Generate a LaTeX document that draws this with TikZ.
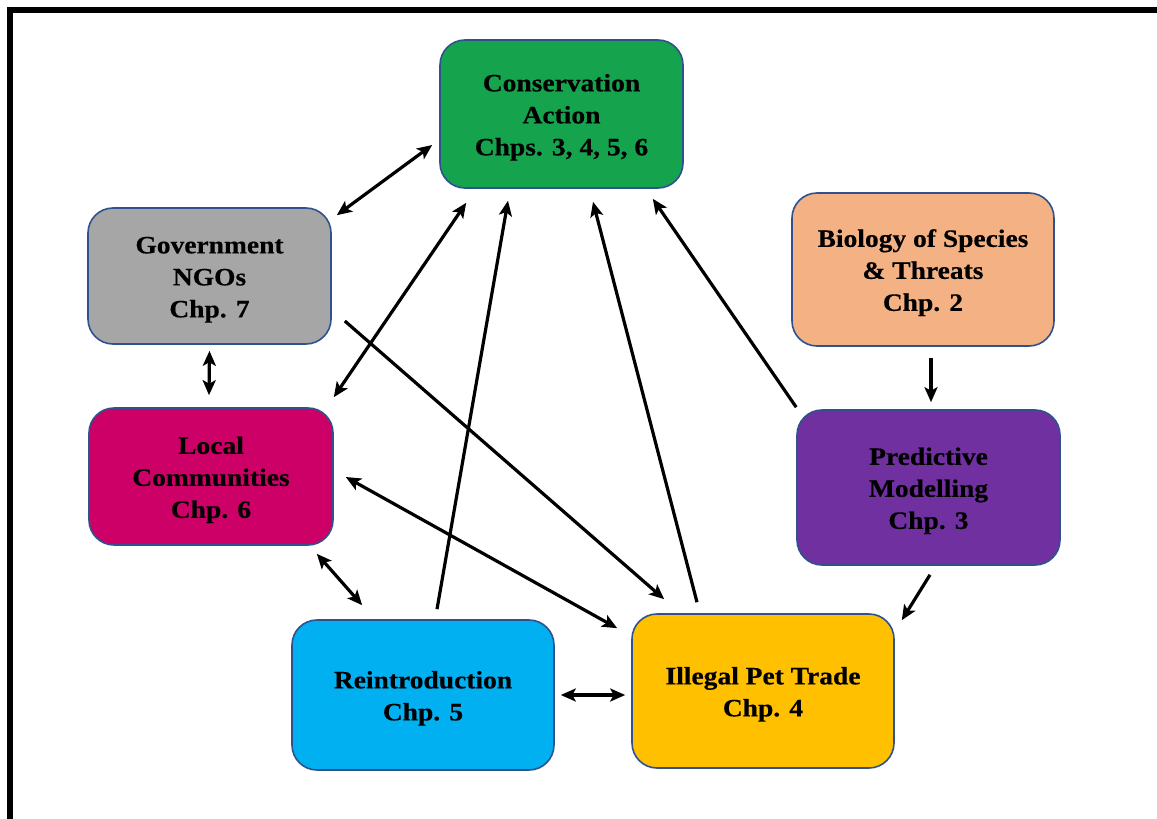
\documentclass[tikz,border=0pt]{standalone}
\usepackage{fontspec}
\setmainfont{Liberation Serif}
\newfontfamily\boxfont{Liberation Serif}[BoldFeatures={FakeStretch=1.1,FakeBold=0.4}]
\usetikzlibrary{calc,arrows.meta}
\definecolor{cgreen}{RGB}{22,163,77}
\definecolor{cgray}{RGB}{166,166,166}
\definecolor{csalmon}{RGB}{244,177,131}
\definecolor{cmagenta}{RGB}{204,0,102}
\definecolor{cpurple}{RGB}{112,48,160}
\definecolor{ccyan}{RGB}{0,176,240}
\definecolor{cyellow}{RGB}{255,192,0}
\definecolor{cedge}{RGB}{47,82,143}
\newcommand{\tp}{\rule{0pt}{24pt}}
\tikzset{
  box/.style={draw=cedge, line width=1.6pt, rounded corners=25pt, inner sep=0pt,
    align=center, font=\boxfont\fontsize{25}{32}\selectfont\bfseries, text=black},
  one/.style={line width=3.2pt, -{Stealth[length=15pt,width=13pt,inset=3.5pt]}},
  two/.style={line width=3.2pt, {Stealth[length=15pt,width=13pt,inset=3.5pt]}-{Stealth[length=15pt,width=13pt,inset=3.5pt]}},
}
\begin{document}
\begin{tikzpicture}[x=1pt,y=-1pt]
\useasboundingbox (0,0) rectangle (1157,819);
\fill[white] (0,0) rectangle (1157,819);
\draw[line width=6pt, line cap=rect] (10,830) -- (10,10) -- (1165,10);

\node[box, fill=cgreen, minimum width=243pt, minimum height=148pt] (ca) at (561.5,114) {\tp Conservation\\Action\\Chps. 3, 4, 5, 6};
\node[box, fill=cgray, minimum width=243pt, minimum height=136pt] (gov) at (209.5,276) {\tp Government\\NGOs\\Chp. 7};
\node[box, fill=csalmon, minimum width=262pt, minimum height=153pt] (bio) at (923,269.5) {\tp Biology of Species\\\& Threats\\Chp. 2};
\node[box, fill=cmagenta, minimum width=244pt, minimum height=137pt] (lc) at (211,476.5) {\tp Local\\Communities\\Chp. 6};
\node[box, fill=cpurple, minimum width=263pt, minimum height=155pt] (pm) at (928.5,487.5) {\tp Predictive\\Modelling\\Chp. 3};
\node[box, fill=ccyan, minimum width=262pt, minimum height=150pt] (re) at (423,695) {\tp Reintroduction\\Chp. 5};
\node[box, fill=cyellow, minimum width=262pt, minimum height=154pt] (ipt) at (763,691) {\tp Illegal Pet Trade\\Chp. 4};

% connectors
\draw[two] ($(ca.west)+(-7,31)$) -- ($(gov.north east)+(5,8)$);
\draw[two] ($(lc.north east)+(0,-10)$) -- ($(ca.south west)+(27,14)$);
\draw[one] ($(re.north)+(14,-10)$) -- ($(ca.south)+(-53.5,12)$);
\draw[one] ($(ipt.north)+(-66,-11)$) -- ($(ca.south)+(31.5,13)$);
\draw[one] ($(pm.north west)+(0,-2)$) -- ($(ca.south east)+(-31,10)$);
\draw[one] ($(bio.south)+(8,11)$) -- ($(pm.north)+(2.5,-7)$);
\draw[one] ($(pm.south)+(1.5,9)$) -- ($(ipt.north east)+(7,7)$);
\draw[one] ($(gov.east)+(13,45)$) -- ($(ipt.north west)+(33,-14)$);
\draw[two] ($(lc.east)+(12,0.5)$) -- ($(ipt.north west)+(-14,15)$);
\draw[two] ($(lc.south east)+(-17,8)$) -- ($(re.north west)+(71,-14)$);
\draw[two] ($(gov.south)+(0,6)$) -- ($(lc.north)+(-2,-12)$);
\draw[two] ($(re.east)+(6,0)$) -- ($(ipt.west)+(-6,4)$);
\end{tikzpicture}
\end{document}
